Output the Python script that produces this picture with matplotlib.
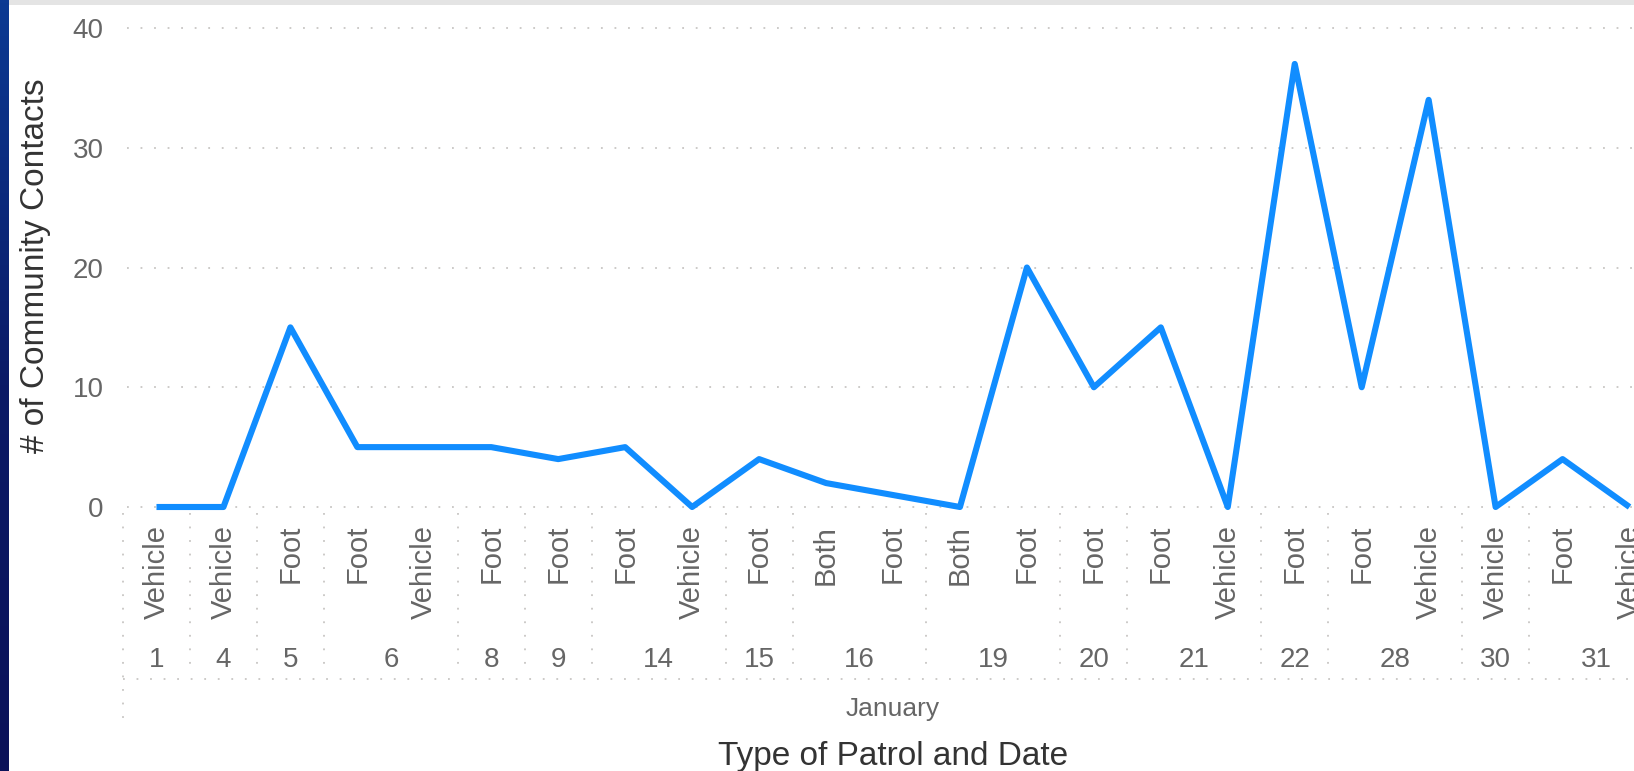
import matplotlib
matplotlib.use("Agg")
import matplotlib.pyplot as plt
import matplotlib.transforms as mtransforms
from matplotlib.colors import LinearSegmentedColormap
from matplotlib.patches import Rectangle
import numpy as np

plt.rcParams['font.family'] = ['Liberation Sans', 'DejaVu Sans']

# ---- data ----
days = ["1", "4", "5", "6", "6", "8", "9", "14", "14", "15", "16", "16",
        "19", "19", "20", "21", "21", "22", "28", "28", "30", "31", "31"]
patrol_types = ["Vehicle", "Vehicle", "Foot", "Foot", "Vehicle", "Foot", "Foot",
                "Foot", "Vehicle", "Foot", "Both", "Foot", "Both", "Foot",
                "Foot", "Foot", "Vehicle", "Foot", "Foot", "Vehicle", "Vehicle",
                "Foot", "Vehicle"]
contacts = [0, 0, 15, 5, 5, 5, 4, 5, 0, 4, 2, 1, 0, 20, 10, 15, 0, 37, 10, 34, 0, 4, 0]
month_label = "January"
y_ticks = [0, 10, 20, 30, 40]
x_title = "Type of Patrol and Date"
y_title = "# of Community Contacts"

W, H = 1634, 771
fig = plt.figure(figsize=(W / 100, H / 100), dpi=100)
fig.patch.set_facecolor("white")

# plot area in pixels
ax_left, ax_right = 123, 1663
ax_top, ax_bottom = 28, 507
ax = fig.add_axes([ax_left / W, (H - ax_bottom) / H,
                   (ax_right - ax_left) / W, (ax_bottom - ax_top) / H])
ax.set_facecolor("none")
n = len(contacts)
x = np.arange(n)
ax.set_xlim(-0.5, n - 0.5)
ax.set_ylim(0, 40)

for s in ax.spines.values():
    s.set_visible(False)

grid_col = "#C8C6C4"
dot = (0, (1, 6.5))
for yv in y_ticks:
    ax.plot([-0.44, n - 0.5], [yv, yv], color=grid_col, lw=1.3, linestyle=dot,
            clip_on=False, zorder=1)

ax.plot(x, contacts, color="#118DFF", lw=4.4, solid_joinstyle="round",
        solid_capstyle="butt", clip_on=False, zorder=3)

tick_col = "#666666"
ax.set_yticks(y_ticks)
ax.set_yticklabels([str(v) for v in y_ticks], fontsize=20, color=tick_col)
ax.tick_params(axis="y", length=0, pad=14)

ax.set_xticks(x)
ax.set_xticklabels(patrol_types, rotation=90, fontsize=21, color=tick_col)
ax.tick_params(axis="x", length=0, pad=13)

# hierarchical axis: day groups
trans = mtransforms.blended_transform_factory(ax.transData, ax.transAxes)
hpx = ax_bottom - ax_top
def ay(py):
    return (ax_bottom - py) / hpx

groups = []
for i, d in enumerate(days):
    if groups and groups[-1][0] == d:
        groups[-1][2] = i
    else:
        groups.append([d, i, i])

for gi, (d, a, b) in enumerate(groups):
    ax.text((a + b) / 2, ay(660), d, transform=trans, ha="center", va="center",
            fontsize=20, color=tick_col)
    bottom = ay(728) if gi == 0 else ay(668)
    ax.plot([a - 0.5, a - 0.5], [ay(513), bottom], transform=trans,
            color=grid_col, lw=1.3, linestyle=dot, clip_on=False, zorder=1)

ax.plot([-0.5, n - 0.5], [ay(679), ay(679)], transform=trans, color=grid_col,
        lw=1.3, linestyle=dot, clip_on=False, zorder=1)

ax.text(0.5, ay(709), month_label, transform=ax.transAxes, ha="center",
        va="center", fontsize=19, color=tick_col)
ax.text(0.5, ay(757), x_title, transform=ax.transAxes, ha="center",
        va="center", fontsize=24, color="#333333")
fig.text(36 / W, 1 - 266 / H, y_title, rotation=90, ha="center", va="center",
         fontsize=24, color="#333333")

# decorations: left dark-blue strip and top grey band
strip = fig.add_axes([0, 0, 9 / W, 1])
cmap = LinearSegmentedColormap.from_list("strip", ["#0C3A93", "#0A1A66", "#0B1259"])
strip.imshow(np.linspace(0, 1, 256).reshape(-1, 1), aspect="auto", cmap=cmap)
strip.set_axis_off()
fig.add_artist(Rectangle((9 / W, 1 - 5 / H), 1, 5 / H, transform=fig.transFigure,
                         facecolor="#E4E4E4", edgecolor="none"))

fig.savefig("out.png", dpi=100)
